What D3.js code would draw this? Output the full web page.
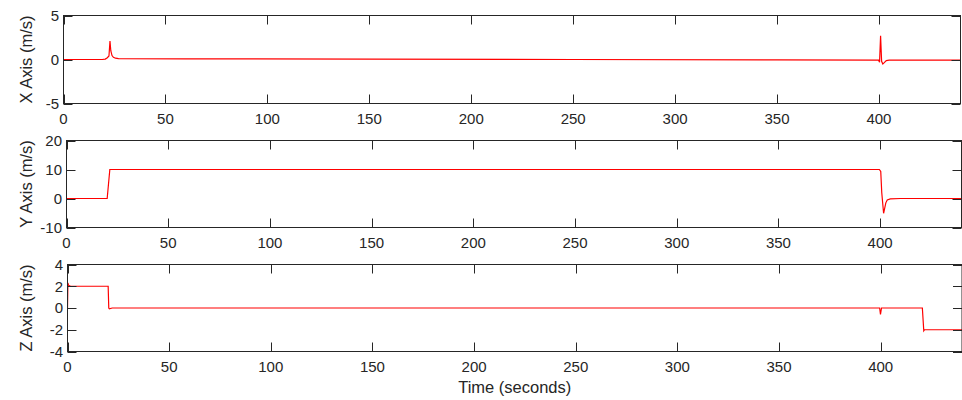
<!DOCTYPE html>
<html>
<head>
<meta charset="utf-8">
<script src="https://cdn.jsdelivr.net/npm/d3@7"></script>
<style>
  body { margin: 0; background: #fff; }
  svg { display: block; font-family: "Liberation Sans", Arial, Helvetica, sans-serif; }
</style>
</head>
<body>
<svg id="chart" width="962" height="400"></svg>
<script>
// ---- data ----
const timeTicks = [0, 50, 100, 150, 200, 250, 300, 350, 400];

const xTime = [0, 19, 20.5, 21.5, 22.3, 22.8, 23.2, 23.8, 24.5, 25.5, 27, 60, 150, 250, 350, 399.8, 400.3, 400.8, 401.3, 401.9, 402.6, 403.6, 405, 420, 440];
const xVel  = [0, 0, 0.05, 0.2, 0.4, 2.1, 1.0, 0.45, 0.25, 0.15, 0.1, 0.08, 0.04, 0, -0.04, -0.07, -0.3, 2.7, -0.2, -0.5, -0.35, -0.12, -0.08, -0.08, -0.08];
const xTicks = [-5, 0, 5];

const yTime = [0, 20, 21.3, 100, 399.6, 400.3, 400.8, 401.7, 402.2, 402.8, 403.5, 405, 410, 440];
const yVel  = [0, 0, 10, 10, 10, 9.3, 2, -5.1, -3.5, -1.5, -0.5, -0.15, 0, 0];
const yTicks = [-10, 0, 10, 20];

const zTime = [0, 0.2, 0.5, 1.5, 20, 20.3, 20.6, 22, 399.5, 399.9, 400.4, 420.5, 421.2, 421.6, 440];
const zVel  = [0, 2.3, 2.1, 2, 2, 0, -0.08, 0, 0, -0.6, 0, 0, -2.1, -2, -2];
const zTicks = [-4, -2, 0, 2, 4];

// ---- layout ----
const axisColor = "#262626";
const tickLen = 9;
const tickFont = 15;
const labelFont = 16.5;

const panels = [
  { label: "X Axis (m/s)", t: xTime, v: xVel, ticks: xTicks, left: 63.5, right: 960.5, top: 15.5, bottom: 103.5 },
  { label: "Y Axis (m/s)", t: yTime, v: yVel, ticks: yTicks, left: 66.5, right: 961.5, top: 140.5, bottom: 227.5 },
  { label: "Z Axis (m/s)", t: zTime, v: zVel, ticks: zTicks, left: 67.5, right: 962, top: 264.5, bottom: 351.5 }
];

const svg = d3.select("#chart");

panels.forEach((p, i) => {
  const x = d3.scaleLinear().domain([0, 440]).range([p.left, p.right]);
  const y = d3.scaleLinear().domain(d3.extent(p.ticks)).range([p.bottom, p.top]);
  const g = svg.append("g").attr("class", "panel");

  g.append("clipPath").attr("id", "clip" + i)
    .append("rect")
    .attr("x", p.left).attr("y", p.top)
    .attr("width", p.right - p.left).attr("height", p.bottom - p.top);

  // series
  const pts = p.t.map((t, k) => [t, p.v[k]]);
  g.append("path")
    .datum(pts)
    .attr("clip-path", `url(#clip${i})`)
    .attr("fill", "none")
    .attr("stroke", "#ff0000")
    .attr("stroke-width", 1.2)
    .attr("d", d3.line().x(d => x(d[0])).y(d => y(d[1])));

  // box
  g.append("rect")
    .attr("x", p.left).attr("y", p.top)
    .attr("width", p.right - p.left).attr("height", p.bottom - p.top)
    .attr("fill", "none").attr("stroke", axisColor).attr("stroke-width", 1);

  // x ticks (inward, bottom + top)
  timeTicks.forEach(t => {
    const xx = Math.round(x(t)) + 0.5;
    g.append("line").attr("x1", xx).attr("x2", xx).attr("y1", p.bottom).attr("y2", p.bottom - tickLen)
      .attr("stroke", axisColor);
    g.append("line").attr("x1", xx).attr("x2", xx).attr("y1", p.top).attr("y2", p.top + tickLen)
      .attr("stroke", axisColor);
    g.append("text")
      .attr("x", x(t)).attr("y", p.bottom + 10).attr("dy", "0.71em")
      .attr("text-anchor", "middle")
      .attr("font-size", tickFont).attr("fill", axisColor)
      .text(t);
  });

  // y ticks (inward, left + right)
  p.ticks.forEach(v => {
    const yy = Math.round(y(v)) + 0.5;
    g.append("line").attr("x1", p.left).attr("x2", p.left + tickLen).attr("y1", yy).attr("y2", yy)
      .attr("stroke", axisColor);
    g.append("line").attr("x1", p.right).attr("x2", p.right - tickLen).attr("y1", yy).attr("y2", yy)
      .attr("stroke", axisColor);
    g.append("text")
      .attr("x", p.left - 4.5).attr("y", y(v)).attr("dy", "0.36em")
      .attr("text-anchor", "end")
      .attr("font-size", tickFont).attr("fill", axisColor)
      .text(v);
  });

  // y label
  g.append("text")
    .attr("transform", `translate(32, ${(p.top + p.bottom) / 2}) rotate(-90)`)
    .attr("text-anchor", "middle")
    .attr("font-size", labelFont).attr("fill", axisColor)
    .text(p.label);
});

// x label under the last panel
const last = panels[panels.length - 1];
svg.append("text")
  .attr("x", (last.left + last.right) / 2).attr("y", 393)
  .attr("text-anchor", "middle")
  .attr("font-size", labelFont).attr("fill", axisColor)
  .text("Time (seconds)");
</script>
</body>
</html>
